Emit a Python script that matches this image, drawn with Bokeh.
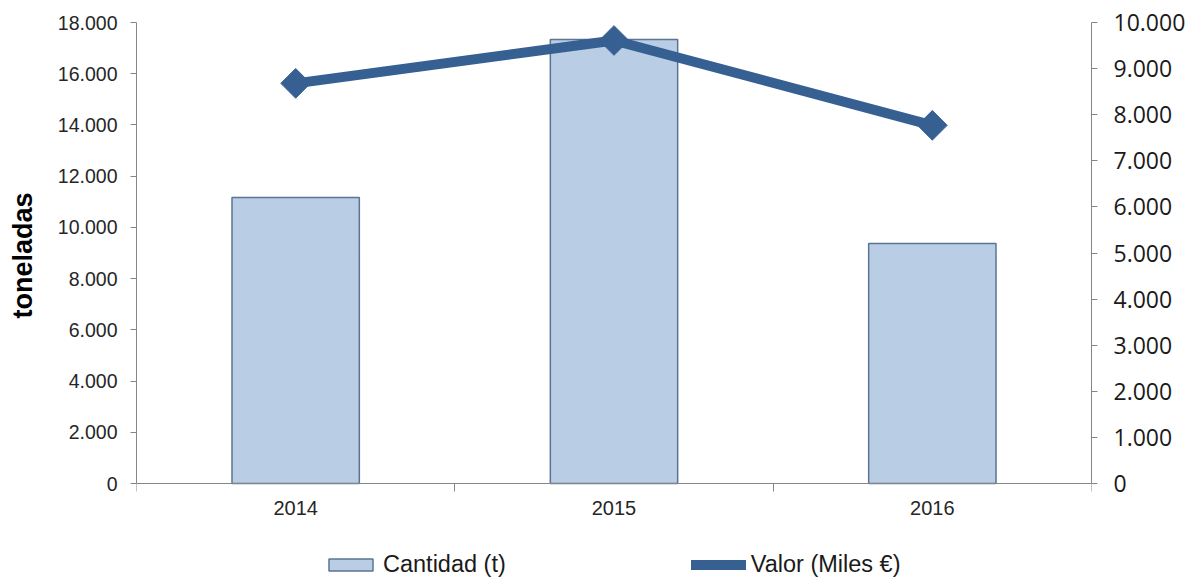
from bokeh.plotting import figure
from bokeh.models import (Range1d, LinearAxis, FixedTicker, CustomJSTickFormatter,
                          ColumnDataSource, Legend, LegendItem)
from bokeh.embed import file_html
from bokeh.resources import INLINE
import numpy as np

# ---- data ----
years = ["2014", "2015", "2016"]
cantidad = [11170, 17340, 9370]        # toneladas (left axis)
valor = [8680, 9610, 7770]             # miles € (right axis)
left_ticks = [0, 2000, 4000, 6000, 8000, 10000, 12000, 14000, 16000, 18000]
right_ticks = [0, 1000, 2000, 3000, 4000, 5000, 6000, 7000, 8000, 9000, 10000]
y_title = "toneladas"

# ---- layout (pixels) ----
W, H = 1192, 578
TOP, AXIS_Y = 22, 483          # frame top and position of the zero line
below = (H - AXIS_Y) / (AXIS_Y - TOP)   # extra room under zero, as fraction of axis span

xs = [i + 0.5 for i in range(len(years))]
src = ColumnDataSource(dict(x=xs, cantidad=cantidad, valor=valor, year=years))

AXIS_COLOR = "#868686"
BAR_FILL = "#B9CDE5"
BAR_LINE = "#5B7493"
LINE_COLOR = "#366092"

lmax, rmax = left_ticks[-1], right_ticks[-1]
p = figure(width=W, height=H, output_backend="svg", toolbar_location=None,
           x_range=Range1d(0, len(years)), y_range=Range1d(-below * lmax, lmax),
           min_border_left=136, min_border_right=101, min_border_top=TOP, min_border_bottom=0,
           x_axis_location=None, y_axis_location=None)
p.outline_line_color = None
p.grid.visible = False
p.background_fill_color = "white"
p.border_fill_color = "white"

p.extra_y_ranges = {"valor": Range1d(-below * rmax, rmax)}

fmt = CustomJSTickFormatter(code="""
    return Math.round(tick).toString().replace(/\\B(?=(\\d{3})+(?!\\d))/g, ".");
""")

# x axis drawn at value 0
xaxis = LinearAxis(ticker=FixedTicker(ticks=xs, minor_ticks=list(range(len(years) + 1))),
                   fixed_location=0)
xaxis.major_label_overrides = {x: y for x, y in zip(xs, years)}
xaxis.axis_line_color = AXIS_COLOR
xaxis.major_tick_line_color = None
xaxis.major_tick_out = 8
xaxis.major_tick_in = 0
xaxis.minor_tick_line_color = AXIS_COLOR
xaxis.minor_tick_out = 8
xaxis.minor_tick_in = 0
xaxis.major_label_standoff = 9
xaxis.major_label_text_font = "Liberation Sans"
xaxis.major_label_text_font_size = "20px"
xaxis.major_label_text_color = "#262626"
p.add_layout(xaxis, "below")

# left axis
yl = LinearAxis(ticker=FixedTicker(ticks=left_ticks), formatter=fmt,
                bounds=(left_ticks[0], lmax))
yl.axis_line_color = AXIS_COLOR
yl.major_tick_line_color = AXIS_COLOR
yl.major_tick_out = 6
yl.major_tick_in = 0
yl.minor_tick_line_color = None
yl.major_label_standoff = 13
yl.major_label_text_font = "Liberation Sans"
yl.major_label_text_font_size = "19.5px"
yl.major_label_text_color = "#262626"
# leading no-break spaces shift the centred title up to the middle of the 0-18.000 span
yl.axis_label = "\u00a0" * 12 + y_title
yl.axis_label_text_font = "Liberation Sans"
yl.axis_label_text_font_style = "bold"
yl.axis_label_text_font_size = "27px"
yl.axis_label_text_color = "#000000"
yl.axis_label_standoff = 17
p.add_layout(yl, "left")

# right axis
yr = LinearAxis(y_range_name="valor", ticker=FixedTicker(ticks=right_ticks), formatter=fmt,
                bounds=(right_ticks[0], rmax))
yr.axis_line_color = AXIS_COLOR
yr.major_tick_line_color = AXIS_COLOR
yr.major_tick_out = 6
yr.major_tick_in = 0
yr.minor_tick_line_color = None
yr.major_label_standoff = 16
yr.major_label_text_font = "Open Sans"
yr.major_label_text_font_size = "23px"
yr.major_label_text_color = "#1a1a1a"
p.add_layout(yr, "right")

bars = p.vbar(x="x", top="cantidad", width=0.4, bottom=0, source=src,
              fill_color=BAR_FILL, line_color=BAR_LINE, line_width=1.5)
line = p.line(x="x", y="valor", source=src, y_range_name="valor",
              line_color=LINE_COLOR, line_width=10, line_join="round", line_cap="round")
p.scatter(x="x", y="valor", source=src, y_range_name="valor", marker="square",
          angle=np.pi / 4, size=21, fill_color=LINE_COLOR, line_color=LINE_COLOR)

legend = Legend(items=[LegendItem(label="Cantidad (t)", renderers=[bars]),
                       LegendItem(label="Valor (Miles €)", renderers=[line])],
                orientation="horizontal", location=(187, 0),
                glyph_width=55, glyph_height=15, label_standoff=5, spacing=185,
                padding=0, margin=0, border_line_color=None, background_fill_alpha=0,
                label_text_font="Liberation Sans", label_text_font_size="23.5px",
                label_text_color="#1a1a1a")
p.add_layout(legend, "center")

open("out.html", "w").write(file_html(p, INLINE))
